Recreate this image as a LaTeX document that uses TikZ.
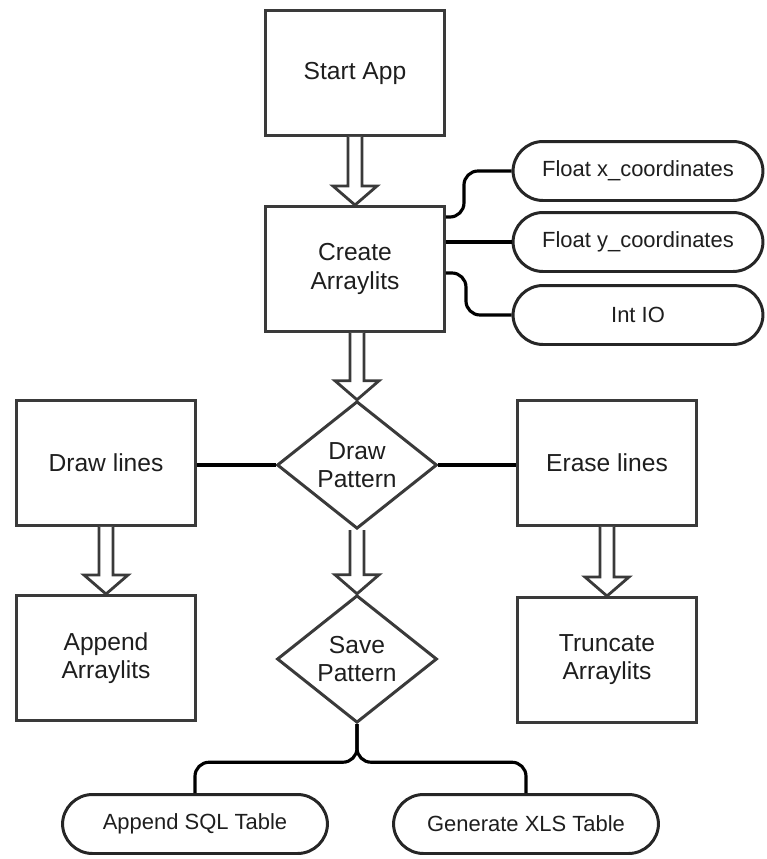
\documentclass[tikz,border=0pt]{standalone}
\usepackage{fontspec}
\setmainfont{Liberation Sans}
\usetikzlibrary{calc,shapes.geometric}
\definecolor{boxgray}{RGB}{58,58,58}
\definecolor{txtdark}{RGB}{30,30,30}
\newcommand{\harrow}[2]{\draw[hol] ($(#1)+(-7,0)$) -- ($(#2)+(-7,-19)$) -- ($(#2)+(-22,-19)$) -- (#2)
    -- ($(#2)+(22,-19)$) -- ($(#2)+(7,-19)$) -- ($(#1)+(7,0)$);}
\tikzset{
  blk/.style={draw=boxgray, line width=1.7pt, minimum width=3.58cm, minimum height=2.5cm,
              align=center, text=txtdark, font=\fontsize{14}{16}\selectfont},
  dec/.style={diamond, draw=boxgray, line width=1.7pt, minimum width=3.2cm, minimum height=2.55cm,
              aspect=1.25, inner sep=0pt, align=center, text=txtdark, font=\fontsize{14}{16}\selectfont},
  pill/.style={draw=black!85, line width=1.7pt, rounded corners=0.6cm, minimum width=5.0cm,
               minimum height=1.18cm, text=txtdark, font=\fontsize{12.5}{14}\selectfont},
  link/.style={black, line width=1.8pt, rounded corners=8pt},
  hol/.style={boxgray, line width=1.6pt, line join=miter, fill=white},
}
\begin{document}
\begin{tikzpicture}[x=0.02cm, y=-0.02cm]
  \useasboundingbox (0,0) rectangle (767,859);
  % main column
  \node[blk] (start) at (355,73) {Start App};
  \node[blk] (create) at (355,269) {Create\\Arraylits};
  \node[dec] (drawp) at (357,465) {Draw\\Pattern};
  \node[dec] (save) at (357,659) {Save\\Pattern};
  % attributes
  \node[pill] (fx) at (638,171) {Float x\_coordinates};
  \node[pill] (fy) at (638,242) {Float y\_coordinates};
  \node[pill] (io) at (638,315) {Int IO};
  % side branches
  \node[blk] (drawl) at (106,463) {Draw lines};
  \node[blk] (erase) at (607,463) {Erase lines};
  \node[blk] (append) at (106,658) {Append\\Arraylits};
  \node[blk] (trunc) at (607,660) {Truncate\\Arraylits};
  % outputs
  \node[pill, minimum width=5.3cm] (sql) at (195,824) {Append SQL Table};
  \node[pill, minimum width=5.3cm] (xls) at (526,824) {Generate XLS Table};

  \harrow{start.south}{create.north}
  \harrow{create.south -| drawp.north}{drawp.north}
  \harrow{drawp.south}{save.north}
  \harrow{drawl.south}{append.north}
  \harrow{erase.south}{trunc.north}

  \draw[link] ($(create.north east)+(0,12)$) -- ++(18,0) |- (fx.west);
  \draw[link] (create.east |- fy.west) -- (fy.west);
  \draw[link] ($(create.south east)+(0,-60)$) -- ++(20,0) |- (io.west);
  \draw[link] (drawl.east |- drawp.west) -- (drawp.west);
  \draw[link] (drawp.east) -- (erase.west |- drawp.east);
  \draw[link] (save.south) -- ++(0,38) -| (sql.north);
  \draw[link] (save.south) -- ++(0,38) -| (xls.north);
\end{tikzpicture}
\end{document}
